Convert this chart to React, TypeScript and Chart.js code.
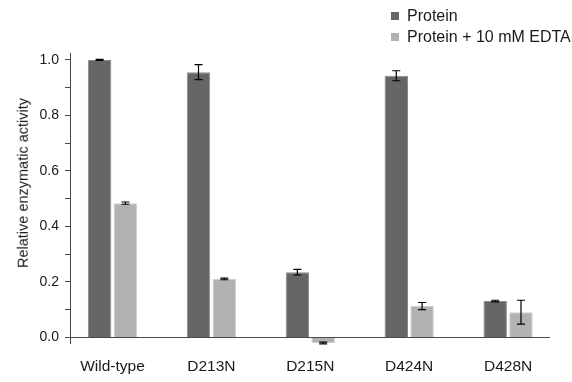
import React, { useEffect, useRef } from 'react';
import { Chart, registerables } from 'chart.js';

Chart.register(...registerables);

const CATEGORIES = ['Wild-type', 'D213N', 'D215N', 'D424N', 'D428N'];
const SERIES_NAMES = ['Protein', 'Protein + 10 mM EDTA'];
const PROTEIN = [1.0, 0.956, 0.235, 0.943, 0.131];
const PROTEIN_ERR = [0.002, 0.027, 0.01, 0.018, 0.003];
const EDTA = [0.484, 0.211, -0.02, 0.113, 0.091];
const EDTA_ERR = [0.004, 0.003, 0.003, 0.013, 0.043];
const Y_TICKS = [0, 0.1, 0.2, 0.3, 0.4, 0.5, 0.6, 0.7, 0.8, 0.9, 1.0];
const Y_LABELED = [0, 0.2, 0.4, 0.6, 0.8, 1.0];
const Y_TITLE = 'Relative enzymatic activity';

const COLORS = ['#666666', '#b2b2b2'];
const BORDERS = ['#8c8c8c', '#cfcfcf'];
const FONT = "'Liberation Sans', Arial, Helvetica, sans-serif";
const TEXT = '#1a1a1a';
const AXIS = '#4a4a4a';

const errorBarPlugin = {
  id: 'errorBars',
  afterDatasetsDraw(chart: any) {
    const { ctx } = chart;
    const yScale = chart.scales.y;
    ctx.save();
    ctx.strokeStyle = '#000000';
    ctx.lineWidth = 1.2;
    chart.data.datasets.forEach((ds: any, di: number) => {
      const meta = chart.getDatasetMeta(di);
      if (meta.hidden) return;
      meta.data.forEach((el: any, i: number) => {
        const v = ds.data[i].y;
        const e = ds.errors[i];
        const x = el.x;
        const yTop = yScale.getPixelForValue(v + e);
        const yBot = yScale.getPixelForValue(v - e);
        const cap = 4;
        ctx.beginPath();
        ctx.moveTo(x, yTop);
        ctx.lineTo(x, yBot);
        ctx.moveTo(x - cap, yTop);
        ctx.lineTo(x + cap, yTop);
        ctx.moveTo(x - cap, yBot);
        ctx.lineTo(x + cap, yBot);
        ctx.stroke();
      });
    });
    ctx.restore();
  },
};

export default function App() {
  const canvasRef = useRef<HTMLCanvasElement | null>(null);

  useEffect(() => {
    if (!canvasRef.current) return;
    const series = [PROTEIN, EDTA];
    const errs = [PROTEIN_ERR, EDTA_ERR];
    const chart = new Chart(canvasRef.current, {
      type: 'bar',
      data: {
        datasets: SERIES_NAMES.map((name, si) => ({
          label: name,
          data: series[si].map((v, i) => ({ x: i, y: v })),
          errors: errs[si],
          backgroundColor: COLORS[si],
          borderColor: BORDERS[si],
          borderWidth: 1,
          categoryPercentage: 0.522,
          barPercentage: 0.91,
        })) as any,
      },
      options: {
        animation: false,
        responsive: false,
        devicePixelRatio: 1,
        layout: { padding: { top: 53, right: 22, left: 0, bottom: 0 } },
        plugins: {
          legend: { display: false },
          tooltip: { enabled: false },
        },
        scales: {
          x: {
            type: 'linear',
            min: -0.43,
            max: 4.424,
            offset: false,
            grid: { display: false, drawTicks: false },
            border: { display: false },
            afterBuildTicks: (s: any) => {
              s.ticks = CATEGORIES.map((_, i) => ({ value: i }));
            },
            afterFit: (s: any) => {
              s.height = 39;
            },
            ticks: {
              autoSkip: false,
              maxRotation: 0,
              padding: 14,
              color: TEXT,
              font: { family: FONT, size: 15.5 },
              callback: (v: any) => CATEGORIES[Math.round(Number(v))] ?? '',
            },
          },
          y: {
            type: 'linear',
            min: -0.02,
            max: 1.025,
            z: 1,
            afterBuildTicks: (s: any) => {
              s.ticks = Y_TICKS.map((v) => ({ value: v }));
            },
            afterFit: (s: any) => {
              s.width = 70;
            },
            border: { display: true, color: AXIS, width: 1 },
            grid: {
              drawOnChartArea: true,
              drawTicks: true,
              tickLength: 5,
              tickColor: AXIS,
              lineWidth: 1,
              color: (c: any) => (c.tick && Math.abs(c.tick.value) < 1e-9 ? AXIS : 'rgba(0,0,0,0)'),
            },
            ticks: {
              padding: 6,
              color: TEXT,
              font: { family: FONT, size: 14 },
              callback: (v: any) => {
                const n = Number(v);
                return Y_LABELED.some((t) => Math.abs(t - n) < 1e-9) ? n.toFixed(1) : '';
              },
            },
            title: { display: false },
          },
        },
      } as any,
      plugins: [errorBarPlugin],
    });
    return () => chart.destroy();
  }, []);

  return (
    <div style={{ position: 'fixed', left: 0, top: 0, width: 572, height: 382, background: '#ffffff' }}>
      <canvas ref={canvasRef} width={572} height={382} style={{ width: 572, height: 382, display: 'block' }} />
      <div
        style={{
          position: 'absolute',
          left: 23,
          top: 183,
          transform: 'translate(-50%, -50%) rotate(-90deg)',
          whiteSpace: 'nowrap',
          fontFamily: FONT,
          fontSize: 14.5,
          lineHeight: 1,
          color: TEXT,
        }}
      >
        {Y_TITLE}
      </div>
      <div style={{ position: 'absolute', left: 391, top: 6, fontFamily: FONT, fontSize: 16, color: TEXT }}>
        {SERIES_NAMES.map((name, i) => (
          <div key={name} style={{ display: 'flex', alignItems: 'center', height: 20.5, whiteSpace: 'nowrap' }}>
            <span style={{ display: 'inline-block', width: 8, height: 8, background: COLORS[i], marginRight: 8, flex: 'none' }} />
            <span>{name}</span>
          </div>
        ))}
      </div>
    </div>
  );
}
